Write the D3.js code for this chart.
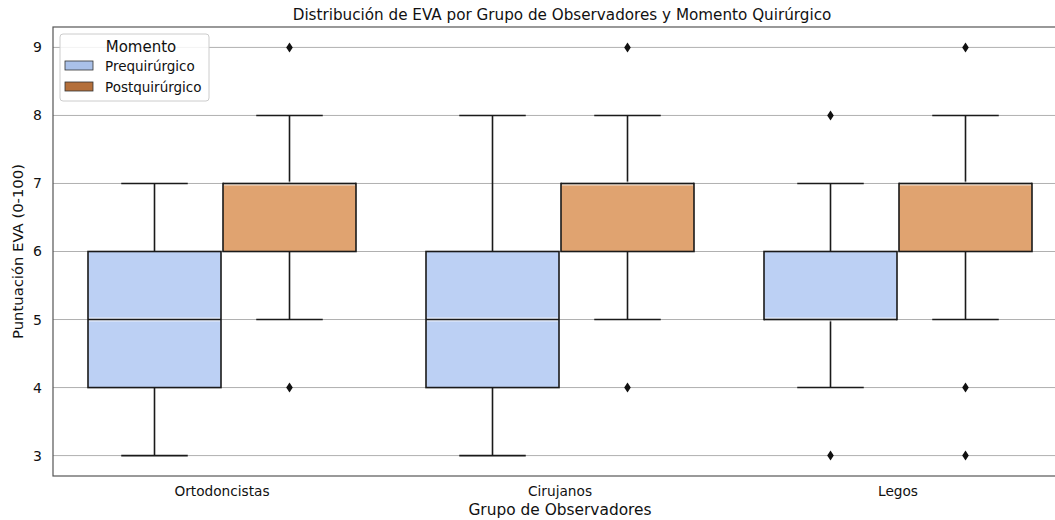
<!DOCTYPE html>
<html>
<head>
<meta charset="utf-8">
<script src="https://cdn.jsdelivr.net/npm/d3@7"></script>
<style>
body { margin: 0; background: #fff; }
svg { font-family: "DejaVu Sans", sans-serif; }
.grid line { stroke: #b0b0b0; stroke-width: 1; }
.whisker { stroke: #1a1a1a; stroke-width: 1.6; }
</style>
</head>
<body>
<svg width="1055" height="520"></svg>
<script>
var groups = ["Ortodoncistas", "Cirujanos", "Legos"];
var moments = ["Prequirúrgico", "Postquirúrgico"];
var boxFill = ["#bcd0f4", "#e0a370"];
var legendFill = ["#aac1e9", "#b46f3a"];

// one entry per group, [pre, post]
var whiskLow = [[3, 5], [3, 5], [4, 5]];
var q1 = [[4, 6], [4, 6], [5, 6]];
var median = [[5, 7], [5, 7], [5, 7]];
var q3 = [[6, 7], [6, 7], [6, 7]];
var whiskHigh = [[7, 8], [8, 8], [7, 8]];
var outliers = [[[], [9, 4]], [[], [9, 4]], [[8, 3], [9, 4, 3]]];

var yTicks = [3, 4, 5, 6, 7, 8, 9];

var svg = d3.select("svg")
var plotL = 53, plotR = 1067, plotT = 27, plotB = 476;

var x = d3.scaleBand().domain(groups).range([plotL, plotR]);
var xHue = d3.scaleBand().domain(moments).range([35, 303]).paddingInner(2 / 135);
var y = d3.scaleLinear().domain([2.7, 9.3]).range([plotB, plotT]);

// grid
svg.append("g").attr("class", "grid")
    .selectAll("line").data(yTicks).enter().append("line")
    .attr("x1", plotL).attr("x2", plotR)
    .attr("y1", function(d) { return y(d) }).attr("y2", function(d) { return y(d) });

var bw = xHue.bandwidth();
groups.forEach(function(g, gi) {
    moments.forEach(function(m, mi) {
	var x0 = x(g) + xHue(m), cx = x0 + bw / 2;
	var b = svg.append("g");
	b.append("line").attr("class", "whisker")
	    .attr("x1", cx).attr("x2", cx).attr("y1", y(whiskLow[gi][mi])).attr("y2", y(q1[gi][mi]));
	b.append("line").attr("class", "whisker")
	    .attr("x1", cx).attr("x2", cx).attr("y1", y(q3[gi][mi])).attr("y2", y(whiskHigh[gi][mi]));
	[whiskLow[gi][mi], whiskHigh[gi][mi]].forEach(function(v) {
	    b.append("line").attr("class", "whisker")
		.attr("x1", cx - bw / 4).attr("x2", cx + bw / 4).attr("y1", y(v)).attr("y2", y(v));
	});
	b.append("rect")
	    .attr("x", x0).attr("width", bw)
	    .attr("y", y(q3[gi][mi])).attr("height", y(q1[gi][mi]) - y(q3[gi][mi]))
	    .attr("fill", boxFill[mi]).attr("stroke", "#1a1a1a").attr("stroke-width", 1.6);
	b.append("line").attr("stroke", "#ffffff").attr("stroke-width", 4).attr("stroke-opacity", 0.7)
	    .attr("x1", x0 + 1).attr("x2", x0 + bw - 1).attr("y1", y(median[gi][mi])).attr("y2", y(median[gi][mi]));
	b.append("line").attr("class", "whisker")
	    .attr("x1", x0).attr("x2", x0 + bw).attr("y1", y(median[gi][mi])).attr("y2", y(median[gi][mi]));
	outliers[gi][mi].forEach(function(v) {
	    var py = y(v);
	    b.append("path")
		.attr("d", "M" + cx + "," + (py - 5) + "L" + (cx + 3.3) + "," + py + "L" + cx + "," + (py + 5) + "L" + (cx - 3.3) + "," + py + "Z")
		.attr("fill", "#111");
	});
    });
});

// spines
svg.append("rect").attr("x", plotL).attr("y", plotT).attr("width", plotR - plotL).attr("height", plotB - plotT)
    .attr("fill", "none").attr("stroke", "#555").attr("stroke-width", 1.2);

// axes
var yAxis = svg.append("g").attr("transform", "translate(" + plotL + ",0)")
    .call(d3.axisLeft(y).tickValues(yTicks).tickFormat(d3.format("d")).tickSize(0).tickPadding(11));
yAxis.select(".domain").remove();
yAxis.selectAll("text").attr("font-size", 14).attr("font-family", "DejaVu Sans").attr("fill", "#111");

var xAxis = svg.append("g").attr("transform", "translate(0," + plotB + ")")
    .call(d3.axisBottom(x).tickSize(0).tickPadding(10));
xAxis.select(".domain").remove();
xAxis.selectAll("text").attr("font-size", 13.7).attr("font-family", "DejaVu Sans").attr("fill", "#111");

svg.append("text").attr("x", 560).attr("y", 515).attr("text-anchor", "middle")
    .attr("font-size", 15.4).attr("fill", "#111").text("Grupo de Observadores");
svg.append("text").attr("transform", "translate(23," + ((plotT + plotB) / 2) + ") rotate(-90)")
    .attr("text-anchor", "middle").attr("font-size", 14.8).attr("fill", "#111").text("Puntuación EVA (0-100)");
svg.append("text").attr("x", 562).attr("y", 20).attr("text-anchor", "middle")
    .attr("font-size", 15.2).attr("fill", "#111").text("Distribución de EVA por Grupo de Observadores y Momento Quirúrgico");

// legend
var lg = svg.append("g").attr("transform", "translate(60,34)");
lg.append("rect").attr("width", 149).attr("height", 67).attr("rx", 3)
    .attr("fill", "#fff").attr("fill-opacity", 0.85).attr("stroke", "#ccc");
lg.append("text").attr("x", 81).attr("y", 18).attr("text-anchor", "middle")
    .attr("font-size", 15).attr("fill", "#111").text("Momento");
moments.forEach(function(m, i) {
    lg.append("rect").attr("x", 5).attr("y", 27 + i * 21).attr("width", 28).attr("height", 9)
	.attr("fill", legendFill[i]).attr("stroke", "#333").attr("stroke-width", 0.8);
    lg.append("text").attr("x", 45).attr("y", 36.5 + i * 21)
	.attr("font-size", 13.5).attr("fill", "#111").text(m);
});
</script>
</body>
</html>
